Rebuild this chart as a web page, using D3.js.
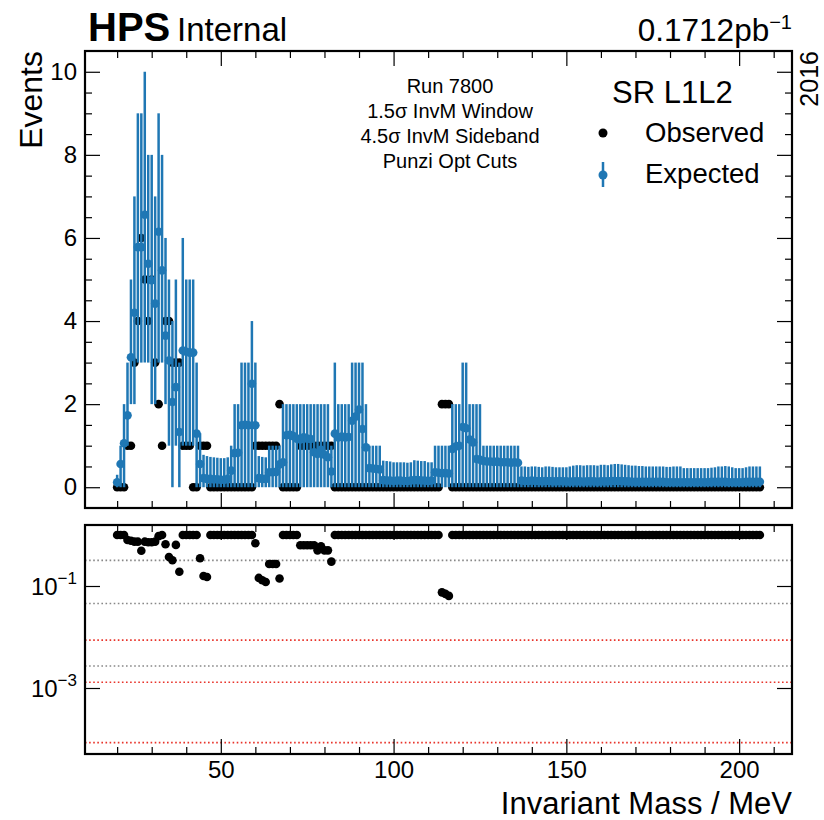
<!DOCTYPE html>
<html>
<head>
<meta charset="utf-8">
<script src="https://cdn.jsdelivr.net/npm/d3@7"></script>
<style>
  body { margin: 0; background: #fff; }
  text { font-family: "Liberation Sans", Arial, sans-serif; fill: #000; }
</style>
</head>
<body>
<div id="chart"></div>
<script>
// scan points (MeV)
var mass = [
  20,21,22,23,24,25,26,27,28,29, 30,31,32,33,34,35,36,37,38,39,
  40,41,42,43,44,45,46,47,48,49, 50,51,52,53,54,55,56,57,58,59,
  60,61,62,63,64,65,66,67,68,69, 70,71,72,73,74,75,76,77,78,79,
  80,81,82,83,84,85,86,87,88,89, 90,91,92,93,94,95,96,97,98,99,
  100,101,102,103,104,105,106,107,108,109, 110,111,112,113,114,115,116,117,118,119,
  120,121,122,123,124,125,126,127,128,129, 130,131,132,133,134,135,136,137,138,139,
  140,141,142,143,144,145,146,147,148,149, 150,151,152,153,154,155,156,157,158,159,
  160,161,162,163,164,165,166,167,168,169, 170,171,172,173,174,175,176,177,178,179,
  180,181,182,183,184,185,186,187,188,189, 190,191,192,193,194,195,196,197,198,199,
  200,201,202,203,204,205,206
];

var observed = [
  0,0,0,1,1,3,4,6,5,4, 5,3,2,1,4,4,3,3,3,1,
  1,1,0,0,1,1,1,0,0,0, 0,0,0,0,0,0,0,0,0,0,
  1,1,1,1,1,1,1,2,0,0, 0,0,0,1,1,1,1,1,1,1,
  1,1,1,0,0,0,0,0,0,0, 0,0,0,0,0,0,0,0,0,0,
  0,0,0,0,0,0,0,0,0,0, 0,0,0,0,2,2,2,0,0,0,
  0,0,0,0,0,0,0,0,0,0, 0,0,0,0,0,0,0,0,0,0,
  0,0,0,0,0,0,0,0,0,0, 0,0,0,0,0,0,0,0,0,0,
  0,0,0,0,0,0,0,0,0,0, 0,0,0,0,0,0,0,0,0,0,
  0,0,0,0,0,0,0,0,0,0, 0,0,0,0,0,0,0,0,0,0,
  0,0,0,0,0,0,0
];

var expected = [
  0.12,0.56,1.06,1.73,3.13,4.2,5.78,5.78,6.56,5.38, 4.98,4.42,6.15,5.22,3.65,3.05,2.05,2.41,1.33,3.29,
  3.26,3.24,3.24,1.29,0.56,0.22,0.2,0.2,0.19,0.19, 0.18,0.18,0.2,0.4,0.82,0.83,1.49,1.5,1.49,2.49,
  1.49,0.22,0.2,0.2,0.36,0.36,0.37,0.55,0.6,1.25, 1.26,1.23,1.17,1.15,1.2,1.17,1.16,0.84,0.8,0.9,
  0.78,0.72,0.38,1.29,1.2,1.22,1.2,1.21,1.6,1.7, 1.87,1.4,0.96,0.46,0.45,0.44,0.43,0.17,0.16,0.16,
  0.15,0.16,0.16,0.15,0.15,0.16,0.17,0.17,0.16,0.16, 0.15,0.16,0.36,0.35,0.34,0.34,0.33,0.92,0.98,1.0,
  1.45,1.42,1.15,1.08,0.68,0.66,0.63,0.62,0.62,0.61, 0.62,0.6,0.6,0.6,0.59,0.6,0.59,0.16,0.15,0.15,
  0.16,0.15,0.15,0.14,0.15,0.15,0.14,0.14,0.15,0.14, 0.14,0.13,0.14,0.14,0.14,0.13,0.14,0.14,0.14,0.13,
  0.14,0.14,0.14,0.15,0.15,0.15,0.15,0.14,0.14,0.13, 0.13,0.13,0.13,0.13,0.13,0.13,0.13,0.13,0.13,0.12,
  0.12,0.12,0.12,0.12,0.12,0.12,0.12,0.12,0.12,0.12, 0.12,0.12,0.13,0.13,0.13,0.13,0.13,0.12,0.12,0.12,
  0.12,0.12,0.13,0.13,0.13,0.13,0.13
];

// error bar ends of the expectation
var expLow = [
  0,0,0,1,2,2,3,3,3,3, 2,2,3,3,2,1,0,1,0,1,
  1,1,1,0,0,0,0,0,0,0, 0,0,0,0,0,0,0,0,0,0,
  0,0,0,0,0,0,0,0,0,0, 0,0,0,0,0,0,0,0,0,0,
  0,0,0,0,0,0,0,0,0,0, 0,0,0,0,0,0,0,0,0,0,
  0,0,0,0,0,0,0,0,0,0, 0,0,0,0,0,0,0,0,0,0,
  0,0,0,0,0,0,0,0,0,0, 0,0,0,0,0,0,0,0,0,0,
  0,0,0,0,0,0,0,0,0,0, 0,0,0,0,0,0,0,0,0,0,
  0,0,0,0,0,0,0,0,0,0, 0,0,0,0,0,0,0,0,0,0,
  0,0,0,0,0,0,0,0,0,0, 0,0,0,0,0,0,0,0,0,0,
  0,0,0,0,0,0,0
];

var expHigh = [
  0.3,1,2,3,5,7,9,9,10,8, 8,7,9,8,6,5,4,5,3,6,
  5,5,5,3,1.3,0.78,0.75,0.73,0.72,0.71, 0.7,0.7,0.72,1,2,2,3,3,3,4,
  3,0.75,0.73,0.72,1,1,1,1,2,2, 2,2,2,2,2,2,2,2,2,2,
  2,2,1,3,2,2,2,2,3,3, 3,3,2,1,1,1,1,0.64,0.63,0.62,
  0.6,0.6,0.6,0.6,0.59,0.6,0.65,0.64,0.63,0.63, 0.6,0.6,1,1,1,1,1,2,2,2,
  3,3,2,2,2,2,1,1,1,1, 1,1,1,1,1,1,1,0.5,0.5,0.49,
  0.5,0.5,0.49,0.48,0.5,0.5,0.49,0.48,0.48,0.48, 0.48,0.5,0.52,0.53,0.53,0.52,0.53,0.53,0.53,0.52,
  0.54,0.54,0.53,0.55,0.56,0.56,0.55,0.54,0.53,0.52, 0.52,0.51,0.51,0.5,0.5,0.5,0.5,0.5,0.5,0.49,
  0.49,0.5,0.5,0.5,0.46,0.46,0.46,0.46,0.46,0.46, 0.46,0.46,0.47,0.48,0.5,0.5,0.51,0.5,0.48,0.46,
  0.46,0.46,0.48,0.5,0.5,0.5,0.5
];

// local p-values (lower panel)
var pValue = [
  1,1,1,0.8,0.77,0.74,0.74,0.49,0.74,0.72, 0.72,0.74,0.95,1,0.66,0.37,0.32,0.64,0.19,1,
  1,1,1,1,0.35,0.157,0.15,1,1,1, 1,1,1,1,1,1,1,1,1,1,
  0.69,0.144,0.13,0.12,0.27,0.27,0.27,0.14,1,1, 1,1,1,0.63,0.63,0.63,0.63,0.63,0.5,0.6,
  0.5,0.5,0.3,1,1,1,1,1,1,1, 1,1,1,1,1,1,1,1,1,1,
  1,1,1,1,1,1,1,1,1,1, 1,1,1,1,0.075,0.07,0.064,1,1,1,
  1,1,1,1,1,1,1,1,1,1, 1,1,1,1,1,1,1,1,1,1,
  1,1,1,1,1,1,1,1,1,1, 1,1,1,1,1,1,1,1,1,1,
  1,1,1,1,1,1,1,1,1,1, 1,1,1,1,1,1,1,1,1,1,
  1,1,1,1,1,1,1,1,1,1, 1,1,1,1,1,1,1,1,1,1,
  1,1,1,1,1,1,1
];

var sigmaLines = [0.3173, 0.0455, 0.0027];
var trialLines = [0.0087, 0.0013, 0.000085];
var infoText = ["Run 7800", "1.5\u03c3 InvM Window", "4.5\u03c3 InvM Sideband", "Punzi Opt Cuts"];

var xMajor = [50, 100, 150, 200];
var xMinor = [20, 30, 40, 60, 70, 80, 90, 110, 120, 130, 140, 160, 170, 180, 190, 210];
var yMajor = [0, 2, 4, 6, 8, 10];
var yMinor = [0.5, 1, 1.5, 2.5, 3, 3.5, 4.5, 5, 5.5, 6.5, 7, 7.5, 8.5, 9, 9.5];
var pTicks = [1e-1, 1e-3];

var svgWidth = 824, svgHeight = 820;
var left = 85, right = 792;
var top1 = 51, bottom1 = 508;
var top2 = 525, bottom2 = 754;
var blue = "#1f77b4";

var svg = d3.select("#chart").append("svg")
  .attr("width", svgWidth)
  .attr("height", svgHeight);

var x = d3.scaleLinear().domain([10.7, 215.3]).range([left, right]);
var y = d3.scaleLinear().domain([-0.5, 10.5]).range([bottom1, top1]);
var yP = d3.scaleLog().domain([Math.pow(10, -4.294), Math.pow(10, 0.196)]).range([bottom2, top2]);

var pts = mass.map(function(m, i) {
  return {m: m, obs: observed[i], exp: expected[i], lo: expLow[i], hi: expHigh[i], p: pValue[i]};
});

function styleAxis(g) {
  g.select(".domain").remove();
  g.selectAll(".tick line").attr("stroke", "#000").attr("stroke-width", 1.2);
  g.selectAll(".tick text").style("font-family", "Liberation Sans, Arial, sans-serif")
    .style("font-size", "24px").attr("fill", "#000");
}

function xTicks(yTop, yBottom, labels) {
  svg.append("g").attr("transform", `translate(0, ${yBottom})`)
    .call(d3.axisBottom(x).tickValues(xMajor).tickSize(-15).tickPadding(7)
      .tickFormat(labels ? d3.format("d") : ""))
    .call(styleAxis);
  svg.append("g").attr("transform", `translate(0, ${yBottom})`)
    .call(d3.axisBottom(x).tickValues(xMinor).tickSize(-7).tickFormat(""))
    .call(styleAxis);
  svg.append("g").attr("transform", `translate(0, ${yTop})`)
    .call(d3.axisTop(x).tickValues(xMajor).tickSize(-15).tickFormat(""))
    .call(styleAxis);
  svg.append("g").attr("transform", `translate(0, ${yTop})`)
    .call(d3.axisTop(x).tickValues(xMinor).tickSize(-7).tickFormat(""))
    .call(styleAxis);
}

// ---------- upper panel ----------
xTicks(top1, bottom1, false);

svg.append("g").attr("transform", `translate(${left}, 0)`)
  .call(d3.axisLeft(y).tickValues(yMajor).tickSize(-15).tickPadding(8))
  .call(styleAxis);
svg.append("g").attr("transform", `translate(${left}, 0)`)
  .call(d3.axisLeft(y).tickValues(yMinor).tickSize(-7).tickFormat(""))
  .call(styleAxis);
svg.append("g").attr("transform", `translate(${right}, 0)`)
  .call(d3.axisRight(y).tickValues(yMajor).tickSize(-15).tickFormat(""))
  .call(styleAxis);
svg.append("g").attr("transform", `translate(${right}, 0)`)
  .call(d3.axisRight(y).tickValues(yMinor).tickSize(-7).tickFormat(""))
  .call(styleAxis);

var upper = svg.append("g");

upper.selectAll(".obs").data(pts).enter()
  .append("circle")
  .attr("class", "obs")
  .attr("cx", d => x(d.m))
  .attr("cy", d => y(d.obs))
  .attr("r", 4.3)
  .attr("fill", "#000");

upper.selectAll(".bar").data(pts).enter()
  .append("line")
  .attr("class", "bar")
  .attr("x1", d => x(d.m))
  .attr("x2", d => x(d.m))
  .attr("y1", d => y(d.lo))
  .attr("y2", d => y(d.hi))
  .attr("stroke", blue)
  .attr("stroke-width", 2.5);

upper.selectAll(".exp").data(pts).enter()
  .append("circle")
  .attr("class", "exp")
  .attr("cx", d => x(d.m))
  .attr("cy", d => y(d.exp))
  .attr("r", 4.3)
  .attr("fill", blue);

svg.append("rect")
  .attr("x", left).attr("y", top1)
  .attr("width", right - left).attr("height", bottom1 - top1)
  .attr("fill", "none").attr("stroke", "#000").attr("stroke-width", 2.2);

// ---------- lower panel ----------
var lower = svg.append("g");

lower.selectAll(".sig").data(sigmaLines).enter()
  .append("line")
  .attr("x1", left).attr("x2", right)
  .attr("y1", d => yP(d)).attr("y2", d => yP(d))
  .attr("stroke", "#888").attr("stroke-width", 1.6)
  .attr("stroke-dasharray", "1.6,2.5");

lower.selectAll(".trial").data(trialLines).enter()
  .append("line")
  .attr("x1", left).attr("x2", right)
  .attr("y1", d => yP(d)).attr("y2", d => yP(d))
  .attr("stroke", "#e8332a").attr("stroke-width", 1.6)
  .attr("stroke-dasharray", "1.6,2.5");

lower.selectAll(".pv").data(pts).enter()
  .append("circle")
  .attr("cx", d => x(d.m))
  .attr("cy", d => yP(d.p))
  .attr("r", 4.3)
  .attr("fill", "#000");

xTicks(top2, bottom2, true);

svg.append("g").attr("transform", `translate(${left}, 0)`)
  .call(d3.axisLeft(yP).tickValues(pTicks).tickSize(-15).tickFormat(""))
  .call(styleAxis);
svg.append("g").attr("transform", `translate(${right}, 0)`)
  .call(d3.axisRight(yP).tickValues(pTicks).tickSize(-15).tickFormat(""))
  .call(styleAxis);

var pLabels = svg.selectAll(".plab").data(pTicks).enter()
  .append("text")
  .attr("x", left - 8)
  .attr("y", d => yP(d) + 9)
  .attr("text-anchor", "end")
  .style("font-size", "24px");
pLabels.append("tspan").text("10");
pLabels.append("tspan")
  .attr("dy", -11)
  .style("font-size", "17px")
  .text(d => "\u2212" + Math.round(-Math.log10(d)));

svg.append("rect")
  .attr("x", left).attr("y", top2)
  .attr("width", right - left).attr("height", bottom2 - top2)
  .attr("fill", "none").attr("stroke", "#000").attr("stroke-width", 2.2);

// ---------- labels ----------
svg.append("text")
  .attr("x", 792).attr("y", 814)
  .attr("text-anchor", "end")
  .style("font-size", "31px")
  .text("Invariant Mass / MeV");

svg.append("text")
  .attr("transform", "translate(42, 51) rotate(-90)")
  .attr("text-anchor", "end")
  .style("font-size", "32px")
  .text("Events");

svg.append("text")
  .attr("x", 88).attr("y", 41)
  .style("font-size", "40px").style("font-weight", "bold")
  .text("HPS");
svg.append("text")
  .attr("x", 177).attr("y", 41)
  .style("font-size", "33px")
  .text("Internal");

var lumi = svg.append("text")
  .attr("x", 792).attr("y", 41)
  .attr("text-anchor", "end")
  .style("font-size", "31.5px");
lumi.append("tspan").text("0.1712pb");
lumi.append("tspan").attr("dy", -12).style("font-size", "20px").text("\u22121");

svg.append("text")
  .attr("transform", "translate(818, 51) rotate(-90)")
  .attr("text-anchor", "end")
  .style("font-size", "25px")
  .text("2016");

svg.selectAll(".info").data(infoText).enter()
  .append("text")
  .attr("x", 450)
  .attr("y", (d, i) => 93 + i * 25)
  .attr("text-anchor", "middle")
  .style("font-size", "20px")
  .text(d => d);

// legend
svg.append("text")
  .attr("x", 612).attr("y", 103)
  .style("font-size", "31px")
  .text("SR L1L2");

svg.append("circle").attr("cx", 603).attr("cy", 133).attr("r", 4.5).attr("fill", "#000");
svg.append("text").attr("x", 645).attr("y", 142).style("font-size", "27.5px").text("Observed");

svg.append("line")
  .attr("x1", 603).attr("x2", 603).attr("y1", 162).attr("y2", 187)
  .attr("stroke", blue).attr("stroke-width", 2.5);
svg.append("circle").attr("cx", 603).attr("cy", 175).attr("r", 4.5).attr("fill", blue);
svg.append("text").attr("x", 645).attr("y", 183).style("font-size", "27.5px").text("Expected");
</script>
</body>
</html>
